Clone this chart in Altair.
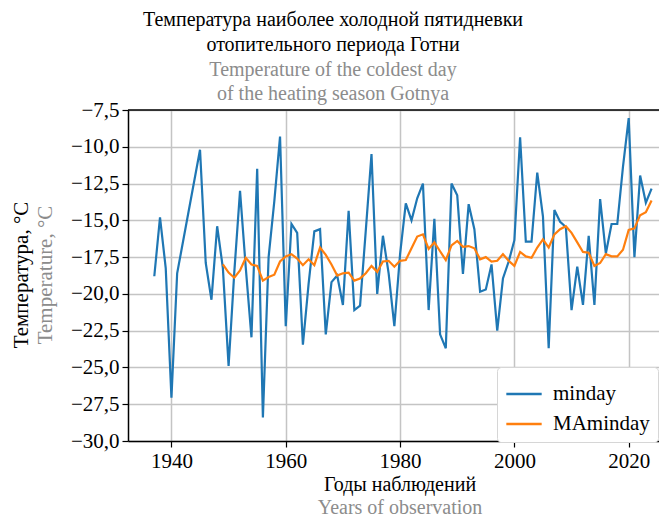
import altair as alt
import pandas as pd

# ---- data ----
min_years = [1937, 1938, 1939, 1940, 1941,
             1945, 1946, 1947, 1948, 1949, 1950, 1951, 1952, 1953, 1954, 1955, 1956, 1957, 1958, 1959,
             1960, 1961, 1962, 1963, 1964, 1965, 1966, 1967, 1968, 1969, 1970, 1971, 1972, 1973, 1974,
             1975, 1976, 1977, 1978, 1979, 1980, 1981, 1982, 1983, 1984, 1985, 1986, 1987, 1988, 1989,
             1990, 1991, 1992, 1993, 1994, 1995, 1996, 1997, 1998, 1999, 2000, 2001, 2002, 2003, 2004,
             2005, 2006, 2007, 2008, 2009, 2010, 2011, 2012, 2013, 2014, 2015, 2016, 2017, 2018, 2019,
             2020, 2021, 2022, 2023, 2024]
minday = [-18.8, -14.8, -18.25, -27.05, -18.6,
          -10.2, -17.9, -20.4, -15.4, -18.25, -24.9, -18.5, -13.0, -18.2, -22.95, -11.5, -28.4, -17.5, -13.7, -9.3,
          -22.2, -15.25, -15.85, -23.45, -19.3, -15.75, -15.6, -22.75, -19.2, -18.75, -20.75, -14.35, -21.1, -20.8, -15.7,
          -10.5, -20.0, -16.05, -18.6, -22.2, -17.3, -13.85, -15.0, -13.5, -12.5, -21.1, -14.9, -22.75, -23.7, -12.5,
          -13.3, -18.65, -13.9, -15.6, -19.85, -19.7, -18.0, -22.5, -18.95, -17.8, -16.35, -9.35, -16.45, -16.45, -11.75,
          -14.75, -23.7, -14.3, -15.1, -15.45, -21.1, -18.15, -20.75, -16.05, -20.75, -13.55, -17.25, -15.25, -15.25, -11.35,
          -8.05, -17.5, -11.95, -13.8, -12.85]

ma_years = list(range(1949, 2025))
maminday = [-18.0, -18.55, -18.9, -18.4, -17.55, -18.0, -18.1, -19.1, -18.85, -18.7, -17.8,
            -17.45, -17.3, -17.6, -18.05, -17.65, -18.05, -16.85, -17.35, -18.0, -18.75,
            -18.6, -18.55, -19.1, -18.95, -18.6, -18.1, -18.5, -17.8, -17.75, -18.15,
            -17.75, -17.7, -16.9, -16.1, -15.95, -16.95, -16.5, -17.1, -17.7, -16.7,
            -16.4, -16.8, -16.75, -16.9, -17.65, -17.5, -17.8, -17.75, -17.3, -17.75,
            -18.1, -17.15, -17.45, -17.55, -16.85, -16.3, -16.85, -15.95, -15.6, -15.4,
            -15.85, -16.5, -17.15, -17.2, -18.1, -17.9, -17.3, -17.45, -17.45, -17.0,
            -15.65, -15.55, -14.65, -14.45, -13.65]

series_names = ["minday", "MAminday"]
series_colors = ["#1f77b4", "#ff7f0e"]
x_ticks = [1940, 1960, 1980, 2000, 2020]
y_ticks = [-30.0, -27.5, -25.0, -22.5, -20.0, -17.5, -15.0, -12.5, -10.0, -7.5]

title_ru = ["Температура наиболее холодной пятидневки", "отопительного периода Готни"]
title_en = ["Temperature of the coldest day", "of the heating season Gotnya"]
ylab_ru = "Температура, °C"
ylab_en = "Temperature, °C"
xlab_ru = "Годы наблюдений"
xlab_en = "Years of observation"

df = pd.concat([
    pd.DataFrame({"year": min_years, "value": minday, "series": series_names[0]}),
    pd.DataFrame({"year": ma_years, "value": maminday, "series": series_names[1]}),
], ignore_index=True)

W, H = 531, 331
FONT = "Liberation Serif"

lines = alt.Chart(df).mark_line(strokeWidth=2.2).encode(
    x=alt.X("year:Q",
            scale=alt.Scale(domain=[1932.4, 2025.3], nice=False, zero=False),
            axis=alt.Axis(values=x_ticks, format="d", title=None)),
    y=alt.Y("value:Q",
            scale=alt.Scale(domain=[-30, -7.5], nice=False, zero=False),
            axis=alt.Axis(values=y_ticks, title=None,
                          labelExpr="replace(replace(format(datum.value, '.1f'), '.', ','), '-', '\u2212')")),
    color=alt.Color("series:N",
                    scale=alt.Scale(domain=series_names, range=series_colors),
                    sort=series_names,
                    legend=alt.Legend(title=None, orient="none", legendX=369, legendY=257,
                                      fillColor="white", strokeColor="#d6d6d6", padding=8,
                                      cornerRadius=4, symbolType="stroke", symbolSize=1250,
                                      symbolStrokeWidth=2.5, labelFont=FONT, labelFontSize=21,
                                      labelColor="black", rowPadding=1, labelOffset=10)),
    order=alt.Order("year:Q"),
)

one = pd.DataFrame({"k": [0]})

top_spine = alt.Chart(one).mark_rule(color="black", strokeWidth=1.5).encode(
    x=alt.value(0), x2=alt.value(W), y=alt.value(0))

def txt(text, x, y, color="black", angle=0, size=20):
    kw = dict(text=text, font=FONT, fontSize=size, color=color, align="center", baseline="middle")
    if angle:
        kw["angle"] = angle
    return alt.Chart(one).mark_text(**kw).encode(x=alt.value(x), y=alt.value(y))

cx_title = 333 - 128
texts = [
    txt(title_ru[0], cx_title, 20 - 110),
    txt(title_ru[1], cx_title, 45 - 110),
    txt(title_en[0], cx_title, 70 - 110, color="#8c8c8c"),
    txt(title_en[1], cx_title, 94 - 110, color="#8c8c8c"),
    txt(ylab_ru, 22 - 128, 275 - 110, angle=270, size=21),
    txt(ylab_en, 46 - 128, 275 - 110, color="#8c8c8c", angle=270, size=21),
    txt(xlab_ru, 400 - 128, 485 - 110, size=20),
    txt(xlab_en, 400 - 128, 508 - 110, color="#8c8c8c", size=20),
]

chart = alt.layer(lines, top_spine, *texts).properties(
    width=W, height=H,
    autosize=alt.AutoSizeParams(type="none"),
    padding={"left": 120, "top": 102, "right": 0, "bottom": 76},
).configure_view(stroke=None).configure_axis(
    labelFont=FONT, labelFontSize=21, labelColor="black",
    domainColor="black", domainWidth=1.5,
    tickColor="black", tickSize=6, tickWidth=1.2,
    grid=True, gridColor="#c4c4c4", gridWidth=1.5,
    labelPadding=3,
)

chart.save("out.html", embed_options={"renderer": "svg", "actions": False})
